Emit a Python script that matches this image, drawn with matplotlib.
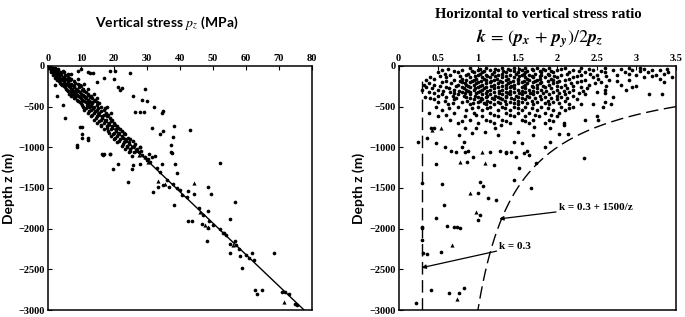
import numpy as np
import matplotlib
matplotlib.use('Agg')
import matplotlib.pyplot as plt
from matplotlib.font_manager import FontProperties

plt.rcParams['mathtext.fontset'] = 'stix'

# ==================== data ====================
# left panel: vertical stress pz (MPa) read row by row at depth z (m)
pz_rows = {
    -20: [0.5, 1, 1.5], -30: [0.3, 1.2, 2.2], -40: [0.8, 1.5, 2.5, 3],
    -60: [1, 2, 3, 4.5], -70: [0.9, 2.2, 3.8], -80: [1.5, 2.5, 3.5, 5],
    -100: [2, 3, 4, 6, 7], -115: [1.5, 2.8, 3.6, 5.2], -130: [2.5, 3.5, 4.5, 6],
    -145: [2.2, 3.4, 4.8, 6.5], -160: [3, 4, 5.5, 7, 9], -175: [2.8, 4.2, 5.0, 6.8],
    -190: [3.5, 5, 6, 8], -205: [3.6, 4.9, 6.2, 8.3], -220: [4, 5.5, 7, 9, 11],
    -235: [4.3, 6.0, 7.2, 9.8], -250: [5, 6.5, 8, 10], -265: [5.2, 6.6, 7.9, 9.3],
    -280: [5.5, 7, 8.5, 10.5, 12], -295: [5.8, 7.3, 8.8, 10.2], -310: [6, 7.5, 9, 11],
    -325: [6.9, 8.1, 9.6, 11.5], -340: [6.5, 8, 10, 12, 14], -355: [7.4, 8.7, 10.5, 12.3],
    -370: [7, 9, 11, 13], -385: [8.2, 9.6, 11.2, 12.8], -400: [8, 10, 11.5, 13.5, 15],
    -415: [8.8, 10.3, 12.1, 14.2], -430: [9, 11, 12.5, 14], -445: [9.6, 11.4, 13.0, 15.0],
    -460: [10, 12, 13.5, 15.5], -480: [10.2, 11.8, 13.2, 14.8], -500: [10.5, 12.5, 14, 16, 18],
    -520: [11.4, 13.6, 15.3, 17.2], -540: [11, 13, 15, 17], -560: [12.6, 14.3, 16.1],
    -580: [12, 14, 15.5, 17.5, 19], -600: [13.4, 15.2, 16.9, 18.3], -620: [13, 15, 16.5, 18],
    -640: [14.5, 16.3, 18.7], -660: [14, 16, 17.5, 19.5], -680: [15.6, 17.2, 19.0],
    -700: [15, 17, 18.5, 20], -720: [16.2, 18.1, 20.4], -740: [16, 18, 19.5, 21],
    -760: [17.8, 19.4, 21.3], -780: [17, 19, 20.5, 22], -800: [18.2, 20.6, 22.4],
    -820: [18.5, 20, 21.5, 23], -840: [19.6, 21.2, 23.5], -860: [19, 21, 22.5],
    -880: [20.4, 22.9, 24.2], -900: [20, 22, 23.5, 25], -920: [21.7, 23.6, 25.8],
    -940: [21, 23, 24.5], -960: [22.9, 24.6, 26.4], -980: [22.5, 24, 26],
    -1000: [23.9, 25.5, 27.8], -1020: [23.5, 25, 27], -1040: [24.8, 26.6, 28.2],
    -1060: [24.5, 26, 27.5],
}
pz_extra = [
    18.8, 20.3, 24.9, 29.3, 28.5, 30, 32.2, 35, 34.5, 26.4, 27.9, 29,
    38.3, 43.2, 35, 34, 37.9, 37.3, 37.3, 31.5, 27.9, 31.5, 8.9, 9.7, 10.2,
    10.4, 12.2, 16.8, 18.7, 11.2, 2.6, 4.7, 5.2, 12.8, 13.7, 21.4, 22.4, 25.7,
    2.1, 8.7, 10.4, 12.2, 9, 10, 12, 17, 15, 20, 22,
    16.3, 17, 18.7, 19.7, 21.4, 24.4, 25.4, 25.9, 25.4, 28, 30.8, 32.4, 34.6,
    37.6, 38.6, 39.1, 32, 33.3, 34.9, 36.6, 38.1, 40.6, 42.1, 42.6, 44.2,
    45.7, 48.7, 48.7, 49.4, 52.3, 56.8, 55.1, 42.6, 43.6, 46.6, 48.7,
    48.2, 52.3, 53.5, 55.1, 56.7, 55.3, 58.3, 58.9, 61.9, 68.5, 62.4,
    62.9, 63.4, 64.9, 72, 73, 75.4,
    30, 31, 33, 34, 36, 38, 39, 40, 47, 49, 50, 53, 54, 57, 58, 60, 61,
    71, 75, 28.5, 29.5, 30.5,
]
z_extra_left = [
    -58, -58, -82, -287, -418, -430, -500, -550, -580, -562, -562, -570,
    -738, -787, -795, -840, -877, -972, -1054, -1115, -992, -760, -992, -746, -746,
    -890, -890, -1095, -1083, -377, -365, -480, -643, -90, -82, -254, -271, -369,
    -238, -976, -832, -914, -60, -40, -70, -150, -200, -160, -300,
    -1082, -1082, -1082, -1267, -1205, -1423, -1267, -1218, -1111, -1205, -1082,
    -1107, -1205,
    -1074, -1205, -1312, -1546, -1493, -1460, -1493, -1710, -1587, -1612, -1538, -1570,
    -1750, -1783, -1493, -1570, -1197, -1669, -1886, -1903, -1903, -1940, -1990,
    -2149, -2000, -2055, -2190, -2149, -2305, -2337, -2488, -2305, -2296, -2387,
    -2755, -2804, -2755, -2776, -2804, -2940,
    -1150, -1180, -1250, -1300, -1400, -1450, -1500, -1530, -1830, -1900, -1950,
    -2050, -2080, -2200, -2250, -2320, -2360,
    -2780, -2920, -1090, -1120, -1140,
]
pz_tri = [29.5, 33.5, 35.5, 44.2, 46, 47.5, 48.5, 56, 71.5, 27.5, 30.5]
z_tri = [-1120, -1420, -1450, -1440, -1790, -1960, -1975, -2200, -2899, -1095, -1180]

# line through the data
pz_fit = [0, 77.7]
z_fit = [0, -3000]

# right panel: k ratio read row by row at depth z (m)
k_rows = {
    -20: [0.9, 1.1, 1.3, 1.45, 1.6, 1.75, 1.9, 2.1, 2.3, 2.6, 2.9, 3.05],
    -35: [0.62, 1.02, 1.22, 1.38, 1.52, 1.68, 1.82, 2.05, 2.4, 2.8, 3.1, 3.38],
    -50: [0.55, 0.8, 1.0, 1.15, 1.25, 1.4, 1.55, 1.7, 1.85, 2.0, 2.2, 2.45, 2.7, 2.95, 3.2, 3.3],
    -65: [0.7, 0.92, 1.08, 1.32, 1.46, 1.62, 1.78, 1.92, 2.28, 2.55, 3.05],
    -80: [0.5, 0.75, 0.95, 1.05, 1.2, 1.35, 1.5, 1.6, 1.8, 1.95, 2.15, 2.35, 2.6, 2.85, 3.15, 3.4],
    -95: [0.58, 0.88, 1.02, 1.18, 1.3, 1.48, 1.58, 1.72, 1.88, 2.12, 2.42, 2.9, 3.35],
    -110: [0.65, 0.85, 1.0, 1.1, 1.25, 1.4, 1.55, 1.65, 1.8, 1.9, 2.05, 2.3, 2.5, 2.75, 3.0, 3.25],
    -125: [0.52, 0.78, 0.96, 1.12, 1.22, 1.36, 1.52, 1.68, 1.78, 1.96, 2.25, 2.62, 3.2],
    -140: [0.4, 0.6, 0.9, 1.05, 1.15, 1.3, 1.45, 1.6, 1.7, 1.85, 2.0, 2.2, 2.45, 3.1, 3.45],
    -155: [0.45, 0.8, 0.98, 1.08, 1.24, 1.38, 1.5, 1.62, 1.78, 1.92, 2.15, 2.52, 3.3],
    -170: [0.35, 0.7, 0.85, 0.95, 1.1, 1.2, 1.35, 1.5, 1.65, 1.75, 1.95, 2.1, 2.35, 2.65, 2.9],
    -185: [0.6, 0.78, 0.92, 1.04, 1.16, 1.28, 1.44, 1.58, 1.72, 1.88, 2.02, 2.3, 2.75],
    -200: [0.55, 0.8, 0.9, 1.0, 1.15, 1.3, 1.4, 1.55, 1.7, 1.8, 2.0, 2.25, 2.55, 3.35],
    -215: [0.38, 0.66, 0.84, 0.98, 1.1, 1.25, 1.38, 1.5, 1.62, 1.78, 1.95, 2.18, 2.48],
    -230: [0.32, 0.45, 0.75, 0.85, 0.95, 1.05, 1.2, 1.35, 1.45, 1.6, 1.75, 1.9, 2.1, 2.4, 2.8],
    -245: [0.52, 0.72, 0.88, 1.02, 1.16, 1.3, 1.42, 1.58, 1.68, 1.82, 2.0, 2.2, 2.62, 3.0],
    -260: [0.34, 0.6, 0.8, 0.9, 1.0, 1.1, 1.25, 1.4, 1.55, 1.7, 1.85, 2.05, 2.3, 2.95],
    -275: [0.42, 0.64, 0.82, 0.96, 1.08, 1.2, 1.36, 1.46, 1.6, 1.74, 1.92, 2.12, 2.38],
    -290: [0.3, 0.5, 0.7, 0.85, 0.95, 1.05, 1.15, 1.3, 1.5, 1.65, 1.8, 2.0, 2.2, 2.6, 2.87],
    -305: [0.56, 0.76, 0.88, 1.02, 1.12, 1.26, 1.4, 1.56, 1.7, 1.86, 2.08, 2.32],
    -320: [0.38, 0.65, 0.8, 0.9, 1.0, 1.2, 1.35, 1.45, 1.6, 1.75, 1.95, 2.15, 2.5],
    -335: [0.44, 0.7, 0.84, 0.98, 1.1, 1.26, 1.38, 1.52, 1.66, 1.82, 2.02, 2.28, 2.6],
    -350: [0.55, 0.75, 0.9, 1.05, 1.15, 1.3, 1.4, 1.55, 1.7, 1.9, 2.1, 2.35, 3.16, 3.32],
    -365: [0.5, 0.68, 0.82, 0.96, 1.12, 1.22, 1.36, 1.48, 1.62, 1.78, 2.0, 2.2],
    -380: [0.33, 0.6, 0.85, 1.0, 1.1, 1.25, 1.35, 1.5, 1.65, 1.85, 2.05, 2.7],
    -395: [0.4, 0.72, 0.9, 1.04, 1.18, 1.28, 1.42, 1.56, 1.72, 1.92, 2.12],
    -410: [0.45, 0.7, 0.95, 1.05, 1.2, 1.3, 1.45, 1.6, 1.8, 2.0, 2.25],
    -425: [0.58, 0.86, 1.02, 1.12, 1.34, 1.5, 1.68, 1.88, 2.1],
    -440: [0.5, 0.8, 1.0, 1.15, 1.25, 1.4, 1.55, 1.75, 1.95, 2.6],
    -455: [0.68, 0.94, 1.08, 1.28, 1.46, 1.62, 1.84, 2.02],
    -470: [0.62, 0.9, 1.1, 1.2, 1.35, 1.5, 1.7, 1.9, 2.15, 2.3, 2.45, 2.68],
    -500: [0.47, 0.75, 1.0, 1.15, 1.3, 1.45, 1.6, 1.8, 2.05, 2.2, 2.58],
    -520: [0.64, 0.92, 1.12, 1.34, 1.5, 1.68, 1.88, 2.15],
    -540: [0.55, 0.85, 1.05, 1.25, 1.4, 1.55, 1.75, 1.95, 2.1],
    -580: [0.38, 0.7, 0.95, 1.15, 1.35, 1.5, 1.65, 1.85, 2.02],
    -600: [0.6, 0.98, 1.2, 1.4, 1.72, 1.92],
    -620: [0.5, 0.84, 1.05, 1.25, 1.45, 1.6, 1.77, 2.0, 2.5],
    -660: [0.65, 0.9, 1.1, 1.3, 1.55, 1.7, 1.9, 2.35],
    -680: [0.8, 1.15, 1.35, 1.6, 1.95],
    -700: [0.75, 1.0, 1.2, 1.4, 1.65, 1.85, 2.08],
}
k_extra = [
    0.41, 0.45, 0.84, 1.21, 1.29, 1.71, 1.91, 2.08, 0.97, 1.09, 0.92, 0.76,
    0.25, 0.36, 0.47, 0.59, 0.80, 0.83, 1.25, 1.46, 1.56, 1.50, 1.69, 2.02, 2.14,
    1.91, 1.85, 2.51, 0.66, 1.35, 1.62,
    0.47, 0.55, 0.57, 0.47, 0.61, 0.74, 0.30, 0.30, 0.86, 0.84, 0.94,
    1.00, 1.03, 1.07, 1.13, 1.23, 1.02, 1.00, 1.48, 1.52, 1.65, 1.73, 1.46,
    1.67, 2.34, 1.20, 0.72, 0.88, 1.15, 1.28, 1.36, 1.42, 1.58,
    0.30, 0.30, 0.31, 0.36, 0.53, 0.41, 0.63, 0.76, 0.82, 0.22, 0.70, 0.78,
]
z_extra_right = [
    -766, -766, -766, -766, -725, -746, -766, -730, -766, -808, -828, -849,
    -931, -880, -951, -992, -992, -931, -849, -931, -951, -808, -849, -832, -832,
    -935, -1000, -668, -1040, -1060, -1040,
    -1209, -1455, -1710, -1873, -1964, -1976, -1976, -1443, -1177, -1054, -1115,
    -1566, -1431, -1480, -1628, -1648, -1833, -1894, -1115, -1250, -1095, -1197, -1402,
    -1497, -1128, -1218, -1060, -1050, -1060, -1050, -1070, -1055, -1065,
    -1997, -2140, -2304, -2317, -2284, -2755, -2796, -2796, -2734, -2919, -1985, -1990,
]
k_tri = [0.53, 0.78, 1.09, 0.90, 0.98, 0.67, 0.74, 0.42, 1.05]
z_tri_k = [-766, -1177, -1197, -1566, -1792, -2202, -2866, -790, -1060]

# bounds drawn on the right panel
k_low = 0.3
k_a, k_b = 0.5, 1500.0
# ==============================================


def flatten(rows, extra_x, extra_z):
    xs, zs = [], []
    for zz, vals in rows.items():
        xs += vals
        zs += [zz] * len(vals)
    return xs + extra_x, zs + extra_z


pz_dots, z_dots = flatten(pz_rows, pz_extra, z_extra_left)
k_dots, zk_dots = flatten(k_rows, k_extra, z_extra_right)

serif = ['Liberation Serif', 'DejaVu Serif']
sans = ['Lato', 'DejaVu Sans']
tick_fp = FontProperties(family=serif, weight='bold', size=7.5)

fig = plt.figure(figsize=(6.85, 3.17), dpi=100)
ax1 = fig.add_axes([0.070, 0.022, 0.385, 0.770])
ax2 = fig.add_axes([0.582, 0.022, 0.405, 0.770])

# ---- left panel
ax1.scatter(pz_dots, z_dots, s=7, color='k', marker='o', linewidths=0)
ax1.scatter(pz_tri, z_tri, s=9, color='k', marker='^', linewidths=0)
ax1.plot(pz_fit, z_fit, color='k', lw=1.0)
ax1.set_xlim(0, 80)
ax1.set_ylim(-3000, 0)
ax1.set_xticks(np.arange(0, 81, 10))
ax1.set_yticks(np.arange(-3000, 1, 500))
fig.text(0.244, 0.928, r'Vertical stress $\mathit{p_z}$ (MPa)', family=sans,
         weight='bold', fontsize=10, ha='center', va='center')
ax1.set_ylabel('Depth z (m)', family=sans, weight='bold', fontsize=10, labelpad=3)

# ---- right panel
ax2.scatter(k_dots, zk_dots, s=7, color='k', marker='o', linewidths=0)
ax2.scatter(k_tri, z_tri_k, s=9, color='k', marker='^', linewidths=0)
ax2.plot([k_low, k_low], [-180, -3000], color='k', lw=1.0, dashes=(9, 4))
zc = np.linspace(k_b / (3.5 - k_a), 3000, 200)
ax2.plot(k_a + k_b / zc, -zc, color='k', lw=1.0, dashes=(9, 4))
ax2.set_xlim(0, 3.5)
ax2.set_ylim(-3000, 0)
ax2.set_xticks([0, 0.5, 1, 1.5, 2, 2.5, 3, 3.5])
ax2.set_xticklabels(['0', '0.5', '1', '1.5', '2', '2.5', '3', '3.5'])
ax2.set_yticks(np.arange(-3000, 1, 500))
ax2.set_ylabel('Depth z (m)', family=sans, weight='bold', fontsize=10, labelpad=3)
fig.text(0.786, 0.953, 'Horizontal to vertical stress ratio', ha='center', va='center',
         family=serif, weight='bold', fontsize=10.5)
fig.text(0.788, 0.877,
         r'$\mathbfit{k}\,=\,(\mathbfit{p}_\mathbfit{x}\,+\,\mathbfit{p}_\mathbfit{y})/2\mathbfit{p}_\mathbfit{z}$',
         ha='center', va='center', fontsize=13)

arrow = dict(arrowstyle='-|>', color='k', lw=0.9, mutation_scale=6, shrinkA=0, shrinkB=0)
ax2.annotate('k = 0.3 + 1500/z', xy=(1.27, -1880), xytext=(2.02, -1735),
             ha='left', va='center', arrowprops=arrow, family=serif, weight='bold', fontsize=8)
ax2.annotate('k = 0.3', xy=(0.29, -2480), xytext=(1.27, -2225),
             ha='left', va='center', arrowprops=arrow, family=serif, weight='bold', fontsize=8)

for ax in (ax1, ax2):
    ax.xaxis.tick_top()
    ax.tick_params(direction='in', length=3, width=0.8, pad=2)
    for lab in ax.get_xticklabels() + ax.get_yticklabels():
        lab.set_fontproperties(tick_fp)
    for sp in ax.spines.values():
        sp.set_linewidth(1.1)

fig.savefig('out.png', dpi=100)
